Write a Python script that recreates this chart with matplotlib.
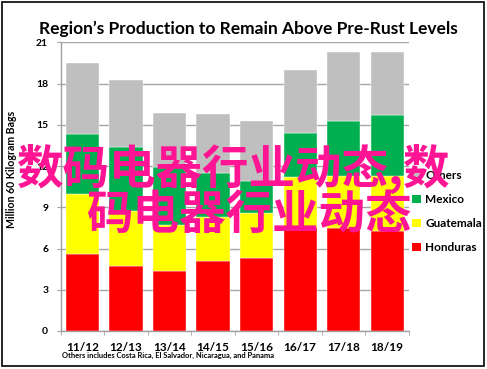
import matplotlib
matplotlib.use("Agg")
import matplotlib.pyplot as plt
from matplotlib.patches import Rectangle, Patch
import numpy as np

years = ["11/12", "12/13", "13/14", "14/15", "15/16", "16/17", "17/18", "18/19"]
honduras = [5.6, 4.7, 4.4, 5.1, 5.3, 7.5, 7.5, 7.3]
guatemala = [4.4, 4.0, 3.3, 3.2, 3.3, 3.7, 3.8, 4.0]
mexico = [4.3, 4.7, 4.2, 3.2, 2.3, 3.2, 4.0, 4.4]
others = [5.2, 4.9, 4.0, 4.3, 4.4, 4.6, 5.0, 4.6]

series = [("Honduras", honduras, "#ff0000"),
          ("Guatemala", guatemala, "#ffff00"),
          ("Mexico", mexico, "#00b050"),
          ("Others", others, "#bfbfbf")]

plt.rcParams['font.family'] = ['Lato', 'DejaVu Sans']

fig = plt.figure(figsize=(4.87, 3.69), dpi=100)
ax = fig.add_axes([0.1246, 0.103, 0.715, 0.782])

x = np.arange(len(years))
bottom = np.zeros(len(years))
handles = []
for name, vals, col in series:
    ax.bar(x, vals, 0.76, bottom=bottom, color=col, edgecolor='white',
           linewidth=0.3, zorder=3)
    bottom += np.array(vals)
    handles.append(Patch(facecolor=col, label=name))

ax.set_xlim(-0.5, len(years) - 0.5)
ax.set_ylim(0, 21)
ax.set_yticks(range(0, 22, 3))
ax.set_xticks(x)
ax.set_xticklabels(years, fontsize=8.5, fontweight='bold')
ax.set_xticks(np.arange(-0.5, len(years)), minor=True)
ax.tick_params(axis='x', which='major', length=0, pad=8)
ax.tick_params(axis='x', which='minor', length=3, color='#a0a0a0')
ax.tick_params(axis='y', length=3, color='#a0a0a0', labelsize=7.5, pad=6)
for lab in ax.get_yticklabels():
    lab.set_fontweight('bold')

ax.grid(axis='y', color='#a6a6a6', linewidth=1, zorder=0)
ax.set_axisbelow(True)
for s in ['top', 'right']:
    ax.spines[s].set_visible(False)
for s in ['left', 'bottom']:
    ax.spines[s].set_color('#a0a0a0')
    ax.spines[s].set_linewidth(1)

ax.set_ylabel("Million 60 Kilogram Bags", fontsize=7.6, fontweight='bold')
ax.yaxis.set_label_coords(-0.125, 0.56)

leg = fig.legend(handles=handles[::-1], loc='upper left',
                 bbox_to_anchor=(0.825, 0.568), frameon=False,
                 handlelength=0.75, handleheight=0.75, handletextpad=0.35,
                 labelspacing=1.1, prop={'size': 8.5, 'weight': 'bold'})

fig.suptitle("Region\u2019s Production to Remain Above Pre-Rust Levels",
             x=0.51, y=0.945, fontsize=12.5, fontweight='bold')

fig.text(0.127, 0.03, "Others includes Costa Rica, El Salvador, Nicaragua, and Panama",
         fontsize=5.4, fontweight='bold')

# border
fig.patches.append(Rectangle((0.004, 0.008), 0.99, 0.987, transform=fig.transFigure,
                             fill=False, edgecolor='black', linewidth=1.2))

# watermark
wm = ['Noto Sans CJK SC', 'DejaVu Sans']
fig.text(0.035, 0.54, "数码电器行业动态,数", fontsize=33.5, color='#ff1493',
         family=wm, fontweight='bold', va='center', ha='left', zorder=10)
fig.text(0.176, 0.417, "码电器行业动态", fontsize=33.5, color='#ff1493',
         family=wm, fontweight='bold', va='center', ha='left', zorder=10)

fig.savefig("out.png", dpi=100)
